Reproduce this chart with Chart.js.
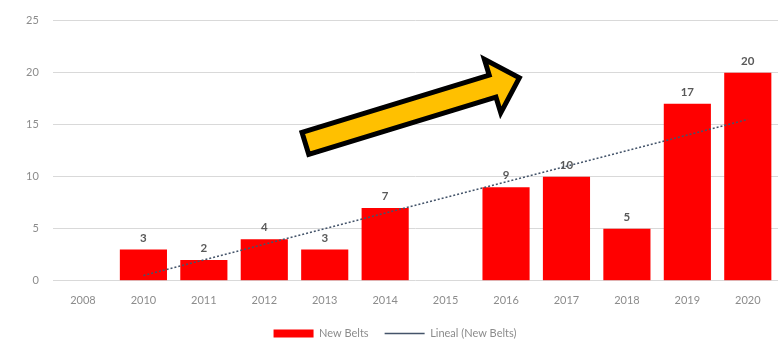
<!DOCTYPE html>
<html>
<head>
<meta charset="utf-8">
<script src="https://cdn.jsdelivr.net/npm/chart.js@4/dist/chart.umd.min.js"></script>
<style>
  html, body { margin: 0; padding: 0; background: #fff; }
  #wrap { width: 782px; height: 354px; position: relative; }
</style>
</head>
<body>
<div id="wrap"><canvas id="beltChart"></canvas></div>
<script>
// years on the axis (2009 is not listed)
const years = ["2008", "2010", "2011", "2012", "2013", "2014", "2015", "2016", "2017", "2018", "2019", "2020"];
// new belts per year, null where there is no bar
const newBelts = [null, 3, 2, 4, 3, 7, null, 9, 10, 5, 17, 20];
// linear trend, start and end
const trendLine = [null, 0.5, null, null, null, null, null, null, null, null, null, 15.5];
const yTicks = [0, 5, 10, 15, 20, 25];

// big yellow "growth" arrow, in axis units (category index, value)
const arrowFrom = { x: 3.68, y: 13.2 };
const arrowTo = { x: 7.22, y: 19.5 };

const grayText = "#8c8c8c";

// value labels above each bar
const barLabels = {
  id: "barLabels",
  afterDatasetsDraw(chart) {
    const ctx = chart.ctx;
    const meta = chart.getDatasetMeta(0);
    ctx.save();
    ctx.font = "bold 11.5px Lato, 'Open Sans', sans-serif";
    ctx.fillStyle = "#595959";
    ctx.textAlign = "center";
    ctx.textBaseline = "bottom";
    meta.data.forEach((bar, i) => {
      const v = newBelts[i];
      if (v === null) return;
      ctx.fillText(String(v), bar.x, bar.y - 6);
    });
    ctx.restore();
  }
};

// the arrow is drawn on top of everything
const growthArrow = {
  id: "growthArrow",
  afterDraw(chart) {
    const xs = chart.scales.x, ys = chart.scales.y;
    const x0 = xs.getPixelForValue(arrowFrom.x), y0 = ys.getPixelForValue(arrowFrom.y);
    const x1 = xs.getPixelForValue(arrowTo.x), y1 = ys.getPixelForValue(arrowTo.y);
    const len = Math.hypot(x1 - x0, y1 - y0);
    const ang = Math.atan2(y1 - y0, x1 - x0);
    const shaft = 11.5, head = 28, headLen = 28;
    const ctx = chart.ctx;
    ctx.save();
    ctx.translate(x0, y0);
    ctx.rotate(ang);
    ctx.beginPath();
    ctx.moveTo(0, -shaft);
    ctx.lineTo(len - headLen, -shaft);
    ctx.lineTo(len - headLen, -head);
    ctx.lineTo(len, 0);
    ctx.lineTo(len - headLen, head);
    ctx.lineTo(len - headLen, shaft);
    ctx.lineTo(0, shaft);
    ctx.closePath();
    ctx.fillStyle = "#FFC000";
    ctx.fill();
    ctx.lineWidth = 5;
    ctx.lineJoin = "miter";
    ctx.strokeStyle = "#000";
    ctx.stroke();
    ctx.restore();
  }
};

new Chart(document.getElementById("beltChart"), {
  type: "bar",
  data: {
    labels: years,
    datasets: [
      {
        label: "New Belts",
        data: newBelts,
        backgroundColor: "#FF0000",
        borderWidth: 0,
        barPercentage: 0.78,
        categoryPercentage: 1,
        order: 1
      },
      {
        type: "line",
        label: "Lineal (New Belts)",
        data: trendLine,
        borderColor: "#44546A",
        borderWidth: 1.5,
        borderDash: [2, 2],
        pointRadius: 0,
        spanGaps: true,
        fill: false,
        order: 0
      }
    ]
  },
  options: {
    responsive: true,
    maintainAspectRatio: false,
    animation: false,
    layout: { padding: { left: 12, right: 4, top: 0, bottom: 5 } },
    scales: {
      x: {
        grid: { display: false },
        border: { display: false },
        ticks: {
          color: grayText,
          font: { family: "Lato, 'Open Sans', sans-serif", size: 11 },
          padding: 5,
          maxRotation: 0
        }
      },
      y: {
        min: 0,
        max: 25,
        afterBuildTicks(axis) {
          axis.ticks = yTicks.map((v) => ({ value: v }));
        },
        grid: { color: "#d9d9d9", lineWidth: 1, drawTicks: false },
        border: { display: false },
        ticks: {
          color: grayText,
          font: { family: "Lato, 'Open Sans', sans-serif", size: 11 },
          padding: 14
        }
      }
    },
    plugins: {
      legend: {
        position: "bottom",
        labels: {
          color: grayText,
          font: { family: "Lato, 'Open Sans', sans-serif", size: 11 },
          usePointStyle: true,
          pointStyleWidth: 40,
          boxHeight: 8,
          boxWidth: 40,
          padding: 16,
          generateLabels(chart) {
            const items = Chart.defaults.plugins.legend.labels.generateLabels(chart);
            items.sort((a, b) => a.datasetIndex - b.datasetIndex);
            items.forEach((it) => {
              it.pointStyle = it.datasetIndex === 0 ? "rect" : "line";
            });
            return items;
          }
        }
      },
      tooltip: { enabled: false }
    }
  },
  plugins: [barLabels, growthArrow]
});
</script>
</body>
</html>
